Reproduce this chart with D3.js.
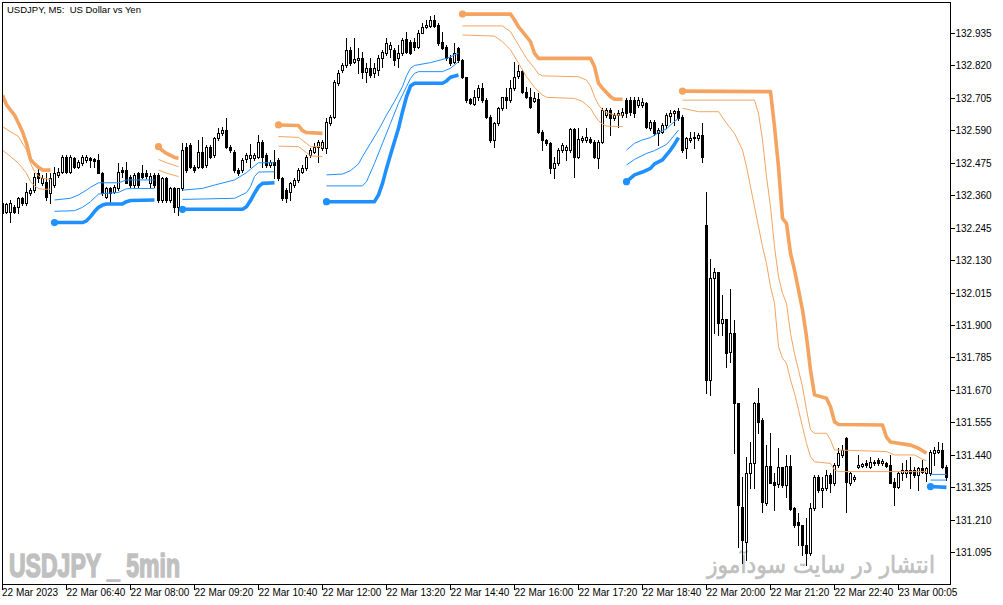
<!DOCTYPE html>
<html>
<head>
<meta charset="utf-8">
<script src="https://cdn.jsdelivr.net/npm/d3@7"></script>
<style>
  html, body { margin: 0; padding: 0; background: #fff; }
  svg { display: block; font-family: "Liberation Sans", Arial, sans-serif; }
</style>
</head>
<body>
<div id="chart"></div>
<script>
// USDJPY M5 candles, bar 0 = 22 Mar 05:20
const opens = [
  132.331,132.302,132.302,132.319,132.319,132.349,132.331,132.367,132.378,132.438,
  132.402,132.408,132.367,132.396,132.432,132.443,132.497,132.443,132.491,132.461,
  132.473,132.485,132.491,132.487,132.485,132.438,132.355,132.384,132.372,132.384,
  132.449,132.449,132.426,132.396,132.438,132.438,132.438,132.402,132.432,132.432,
  132.343,132.420,132.343,132.384,132.319,132.384,132.532,132.538,132.461,132.461,
  132.514,132.467,132.532,132.502,132.562,132.579,132.591,132.532,132.514,132.449,
  132.449,132.487,132.491,132.491,132.497,132.550,132.502,132.467,132.477,132.485,
  132.420,132.378,132.372,132.396,132.414,132.443,132.455,132.502,132.514,132.532,
  132.526,132.526,132.617,132.638,132.757,132.804,132.822,132.875,132.833,132.839,
  132.845,132.798,132.810,132.792,132.804,132.845,132.863,132.877,132.875,132.845,
  132.863,132.913,132.904,132.904,132.887,132.936,132.957,132.960,132.981,132.963,
  132.904,132.887,132.845,132.833,132.881,132.839,132.778,132.700,132.683,132.709,
  132.739,132.697,132.638,132.556,132.615,132.668,132.707,132.697,132.739,132.783,
  132.801,132.727,132.709,132.694,132.700,132.585,132.556,132.544,132.455,132.473,
  132.520,132.520,132.520,132.594,132.497,132.556,132.556,132.558,132.550,132.491,
  132.550,132.644,132.662,132.632,132.644,132.644,132.697,132.697,132.697,132.680,
  132.680,132.686,132.599,132.621,132.579,132.585,132.609,132.642,132.650,132.659,
  132.638,132.526,132.556,132.562,132.562,132.573,132.254,131.705,132.068,132.087,
  131.906,131.920,131.805,131.870,131.622,131.256,131.132,131.374,131.409,131.622,
  131.563,131.270,131.400,131.344,131.336,131.395,131.333,131.400,131.250,131.203,
  131.191,131.120,131.090,131.250,131.362,131.315,131.321,131.368,131.339,131.404,
  131.439,131.498,131.339,131.353,131.398,131.400,131.409,131.398,131.415,131.421,
  131.409,131.412,131.404,131.344,131.327,131.374,131.374,131.386,131.386,131.368,
  131.392,131.374,131.374,131.445,131.451,131.457,131.398
];
const highs = [
  132.337,132.334,132.343,132.325,132.355,132.355,132.402,132.384,132.438,132.455,
  132.432,132.438,132.438,132.461,132.455,132.502,132.502,132.502,132.497,132.485,
  132.502,132.502,132.497,132.491,132.506,132.443,132.390,132.390,132.396,132.473,
  132.461,132.479,132.432,132.438,132.443,132.467,132.449,132.438,132.438,132.438,
  132.426,132.426,132.390,132.390,132.384,132.544,132.544,132.544,132.467,132.556,
  132.568,132.538,132.538,132.568,132.597,132.603,132.632,132.538,132.520,132.455,
  132.491,132.508,132.542,132.508,132.573,132.556,132.508,132.485,132.520,132.491,
  132.426,132.384,132.408,132.420,132.455,132.467,132.502,132.526,132.544,132.556,
  132.556,132.632,132.644,132.768,132.804,132.828,132.916,132.887,132.916,132.881,
  132.869,132.828,132.845,132.828,132.857,132.875,132.916,132.904,132.881,132.892,
  132.916,132.940,132.910,132.916,132.946,132.969,132.981,132.995,132.999,132.969,
  132.940,132.892,132.857,132.898,132.887,132.842,132.780,132.703,132.733,132.751,
  132.757,132.703,132.644,132.621,132.674,132.709,132.739,132.768,132.833,132.822,
  132.804,132.745,132.739,132.727,132.721,132.591,132.558,132.550,132.497,132.526,
  132.544,132.538,132.597,132.597,132.597,132.570,132.597,132.568,132.556,132.556,
  132.668,132.668,132.668,132.650,132.662,132.668,132.703,132.709,132.707,132.709,
  132.703,132.692,132.627,132.627,132.597,132.615,132.650,132.662,132.662,132.668,
  132.644,132.568,132.585,132.585,132.579,132.615,132.373,132.133,132.101,132.089,
  132.006,131.920,132.026,131.918,131.622,131.362,131.433,131.486,131.628,131.675,
  131.569,131.474,131.516,131.374,131.463,131.398,131.439,131.439,131.256,131.232,
  131.191,131.214,131.268,131.368,131.368,131.362,131.386,131.374,131.409,131.463,
  131.474,131.504,131.380,131.368,131.439,131.412,131.421,131.433,131.421,131.427,
  131.424,131.415,131.439,131.356,131.380,131.409,131.421,131.433,131.398,131.398,
  131.421,131.398,131.457,131.469,131.486,131.480,131.404
];
const lows = [
  132.290,132.296,132.266,132.296,132.296,132.325,132.325,132.361,132.372,132.408,
  132.396,132.343,132.331,132.390,132.426,132.438,132.438,132.438,132.455,132.455,
  132.467,132.479,132.461,132.461,132.438,132.361,132.349,132.331,132.367,132.378,
  132.426,132.402,132.390,132.390,132.390,132.420,132.420,132.390,132.390,132.337,
  132.337,132.337,132.337,132.302,132.290,132.378,132.443,132.455,132.443,132.455,
  132.455,132.461,132.491,132.497,132.556,132.573,132.526,132.514,132.443,132.432,
  132.443,132.479,132.461,132.485,132.491,132.461,132.461,132.461,132.420,132.414,
  132.343,132.337,132.343,132.390,132.408,132.438,132.449,132.497,132.508,132.479,
  132.520,132.508,132.609,132.632,132.751,132.798,132.816,132.822,132.828,132.792,
  132.774,132.763,132.780,132.780,132.786,132.816,132.857,132.851,132.822,132.816,
  132.857,132.863,132.861,132.875,132.881,132.934,132.952,132.957,132.957,132.892,
  132.877,132.839,132.822,132.828,132.833,132.774,132.692,132.683,132.680,132.697,
  132.692,132.632,132.550,132.532,132.609,132.662,132.668,132.692,132.733,132.774,
  132.721,132.703,132.668,132.692,132.579,132.520,132.538,132.438,132.420,132.467,
  132.514,132.485,132.514,132.426,132.491,132.550,132.550,132.544,132.491,132.455,
  132.544,132.638,132.573,132.627,132.603,132.638,132.638,132.644,132.638,132.674,
  132.674,132.597,132.591,132.573,132.538,132.579,132.597,132.621,132.609,132.627,
  132.514,132.491,132.550,132.526,132.556,132.479,131.658,131.652,131.870,131.864,
  131.864,131.752,131.770,131.445,131.114,131.055,131.067,131.321,131.321,131.516,
  131.238,131.262,131.339,131.244,131.327,131.327,131.291,131.244,131.185,131.120,
  131.085,131.049,131.085,131.244,131.309,131.256,131.315,131.309,131.333,131.398,
  131.433,131.238,131.333,131.348,131.392,131.395,131.398,131.392,131.404,131.404,
  131.404,131.396,131.339,131.262,131.321,131.350,131.362,131.321,131.362,131.315,
  131.374,131.345,131.368,131.404,131.445,131.392,131.350
];
const closes = [
  132.296,132.328,132.331,132.299,132.349,132.331,132.372,132.378,132.426,132.420,
  132.420,132.355,132.420,132.438,132.443,132.497,132.443,132.497,132.461,132.477,
  132.497,132.497,132.485,132.482,132.438,132.367,132.384,132.367,132.390,132.443,
  132.443,132.402,132.396,132.432,132.396,132.426,132.428,132.428,132.396,132.343,
  132.420,132.343,132.384,132.319,132.384,132.520,132.449,132.461,132.449,132.514,
  132.461,132.532,132.497,132.562,132.579,132.591,132.532,132.520,132.449,132.438,
  132.485,132.502,132.502,132.502,132.550,132.497,132.467,132.477,132.467,132.420,
  132.349,132.349,132.402,132.414,132.449,132.455,132.497,132.520,132.532,132.550,
  132.550,132.621,132.638,132.762,132.792,132.822,132.875,132.828,132.842,132.845,
  132.798,132.810,132.786,132.810,132.845,132.869,132.898,132.892,132.839,132.863,
  132.910,132.869,132.865,132.887,132.936,132.957,132.963,132.981,132.960,132.901,
  132.881,132.845,132.828,132.863,132.839,132.778,132.697,132.688,132.709,132.739,
  132.697,132.638,132.556,132.615,132.668,132.707,132.697,132.739,132.780,132.801,
  132.727,132.709,132.674,132.706,132.585,132.556,132.544,132.455,132.473,132.520,
  132.538,132.532,132.594,132.497,132.558,132.562,132.568,132.550,132.497,132.550,
  132.662,132.662,132.632,132.644,132.650,132.656,132.650,132.656,132.650,132.697,
  132.692,132.603,132.621,132.579,132.591,132.609,132.644,132.650,132.659,132.635,
  132.520,132.562,132.562,132.568,132.573,132.497,131.705,132.065,132.087,131.906,
  131.920,131.802,131.870,131.622,131.262,131.138,131.374,131.409,131.622,131.557,
  131.274,131.400,131.339,131.333,131.395,131.333,131.400,131.246,131.191,131.191,
  131.120,131.090,131.250,131.362,131.315,131.321,131.368,131.339,131.404,131.445,
  131.457,131.344,131.374,131.362,131.404,131.406,131.404,131.415,131.409,131.409,
  131.418,131.400,131.341,131.327,131.374,131.386,131.386,131.374,131.368,131.392,
  131.380,131.392,131.451,131.457,131.457,131.398,131.362
];

// trailing stop above price (thick) and its two thin companion lines, as [bar, price] runs
const upperStop = [
  [[0,132.715],[1,132.680],[2,132.662],[3,132.644],[4,132.615],[5,132.585],[6,132.544],[7,132.487],[8,132.471],[9,132.459],[10,132.449],[12,132.449]],
  [[39,132.532],[40,132.518],[41,132.508],[42,132.501],[43,132.494],[44,132.491]],
  [[69,132.609],[74,132.607],[75,132.589],[76,132.582],[80,132.579]],
  [[115,133.002],[127,133.002],[128,132.981],[129,132.957],[130,132.940],[131,132.922],[132,132.904],[133,132.863],[134,132.845],[147,132.845],[148,132.816],[149,132.757],[150,132.739],[151,132.724],[152,132.709],[153,132.700],[155,132.700]],
  [[170,132.729],[192,132.727],[193,132.603],[194,132.461],[195,132.278],[196,132.260],[197,132.154],[198,132.095],[199,132.024],[200,131.953],[201,131.859],[202,131.740],[203,131.652],[206,131.640],[207,131.610],[208,131.557],[209,131.547],[220,131.545],[221,131.502],[222,131.485],[227,131.474],[229,131.463],[231,131.445]]
];
const upperMid = [
  [[0,132.603],[2,132.585],[4,132.568],[6,132.520],[7,132.473],[8,132.443],[9,132.428],[10,132.420],[12,132.416]],
  [[39,132.487],[41,132.475],[44,132.461]],
  [[69,132.568],[74,132.565],[76,132.544],[77,132.532],[80,132.532]],
  [[115,132.960],[125,132.960],[127,132.940],[129,132.892],[131,132.845],[133,132.810],[134,132.790],[135,132.783],[144,132.780],[146,132.768],[147,132.747],[148,132.709],[149,132.680],[150,132.662],[151,132.653],[153,132.644],[155,132.644]],
  [[170,132.697],[188,132.697],[189,132.650],[190,132.556],[191,132.426],[192,132.319],[193,132.178],[194,132.071],[195,132.012],[196,131.977],[197,131.870],[198,131.799],[199,131.740],[200,131.681],[201,131.599],[202,131.528],[203,131.516],[206,131.516],[207,131.492],[208,131.457],[221,131.451],[223,131.439],[228,131.439],[230,131.424],[231,131.419]]
];
const upperNear = [
  [[0,132.520],[2,132.497],[4,132.473],[6,132.438],[7,132.408],[8,132.393],[9,132.384],[10,132.381],[12,132.381]],
  [[39,132.449],[41,132.438],[44,132.426]],
  [[69,132.534],[74,132.532],[76,132.511],[77,132.499],[80,132.497]],
  [[115,132.928],[123,132.924],[125,132.904],[127,132.875],[129,132.828],[131,132.780],[133,132.742],[135,132.715],[136,132.707],[143,132.703],[145,132.692],[147,132.668],[148,132.644],[149,132.624],[150,132.612],[151,132.605],[155,132.603]],
  [[170,132.668],[172,132.662],[174,132.656],[179,132.656],[181,132.615],[183,132.579],[185,132.520],[186,132.461],[187,132.390],[188,132.319],[189,132.248],[190,132.178],[191,132.118],[192,132.036],[193,131.977],[194,131.823],[195,131.782],[196,131.764],[197,131.705],[198,131.658],[199,131.599],[200,131.539],[201,131.480],[202,131.433],[203,131.415],[207,131.409],[208,131.386],[209,131.380],[231,131.380]]
];

// trailing stop below price (thick) and its two thin companion lines
const lowerStop = [
  [[13,132.263],[20,132.263],[21,132.269],[22,132.284],[23,132.302],[24,132.317],[25,132.325],[26,132.329],[30,132.329],[31,132.337],[32,132.341],[38,132.343]],
  [[45,132.310],[60,132.310],[61,132.319],[62,132.341],[63,132.367],[64,132.390],[65,132.402],[68,132.404]],
  [[81,132.337],[93,132.337],[94,132.361],[95,132.402],[96,132.455],[97,132.503],[98,132.550],[99,132.597],[100,132.656],[101,132.709],[102,132.747],[103,132.757],[110,132.757],[111,132.765],[112,132.778],[114,132.786]],
  [[156,132.408],[158,132.432],[160,132.442],[162,132.455],[163,132.471],[165,132.485],[166,132.503],[167,132.520],[168,132.541],[169,132.564]],
  [[232,131.327],[236,131.324]]
];
const lowerMid = [
  [[13,132.303],[18,132.305],[20,132.317],[22,132.337],[24,132.364],[29,132.370],[31,132.383],[38,132.384]],
  [[45,132.345],[58,132.349],[61,132.369],[62,132.390],[63,132.426],[64,132.442],[68,132.443]],
  [[81,132.393],[90,132.393],[91,132.408],[93,132.473],[95,132.544],[97,132.615],[99,132.686],[101,132.745],[102,132.774],[103,132.792],[104,132.798],[110,132.798],[112,132.810],[114,132.833]],
  [[156,132.467],[158,132.487],[161,132.508],[163,132.518],[166,132.540],[167,132.556],[169,132.591]],
  [[232,131.350],[236,131.350]]
];
const lowerNear = [
  [[13,132.343],[17,132.349],[19,132.361],[21,132.378],[22,132.388],[24,132.404],[29,132.404],[31,132.414],[38,132.414]],
  [[45,132.378],[50,132.384],[53,132.396],[58,132.414],[61,132.440],[63,132.464],[64,132.475],[68,132.475]],
  [[81,132.432],[85,132.435],[87,132.447],[89,132.471],[90,132.497],[92,132.544],[94,132.591],[96,132.644],[98,132.692],[100,132.745],[101,132.783],[102,132.810],[103,132.820],[107,132.830],[111,132.845],[114,132.863]],
  [[156,132.520],[158,132.544],[160,132.556],[162,132.564],[164,132.582],[166,132.595],[167,132.609],[169,132.633]],
  [[232,131.370],[236,131.370]]
];

const priceTicks = ['132.935','132.820','132.705','132.590','132.475','132.360','132.245','132.130',
  '132.015','131.900','131.785','131.670','131.555','131.440','131.325','131.210','131.095'];
const timeTickBars = [0, 16, 32, 48, 64, 80, 96, 112, 128, 144, 160, 176, 192, 208, 224];
const timeTickLabels = ['22 Mar 2023','22 Mar 06:40','22 Mar 08:00','22 Mar 09:20','22 Mar 10:40',
  '22 Mar 12:00','22 Mar 13:20','22 Mar 14:40','22 Mar 16:00','22 Mar 17:20','22 Mar 18:40',
  '22 Mar 20:00','22 Mar 21:20','22 Mar 22:40','23 Mar 00:05'];

const width = 1003;
const height = 605;
const plot = { left: 2.5, top: 2.5, right: 950.5, bottom: 584.5 };
const orange = '#F4A460';
const blue = '#1E90FF';

const svg = d3.select('#chart')
  .append('svg')
  .attr('width', width)
  .attr('height', height);

svg.append('defs')
  .append('clipPath')
  .attr('id', 'plot-clip')
  .append('rect')
  .attr('x', plot.left)
  .attr('y', plot.top)
  .attr('width', plot.right - plot.left)
  .attr('height', plot.bottom - plot.top);

const xScale = d3.scaleLinear().domain([0, 236]).range([2.5, 946.5]);
const yScale = d3.scaleLinear().domain([131.095, 132.935]).range([552, 33]);

// watermarks sit under the candles
svg.append('text')
  .attr('x', 9)
  .attr('y', 577)
  .attr('textLength', 171)
  .attr('lengthAdjust', 'spacingAndGlyphs')
  .attr('fill', '#c0c0c0')
  .attr('stroke', '#c0c0c0')
  .attr('stroke-width', 1.6)
  .attr('stroke-linejoin', 'round')
  .attr('font-family', '"Liberation Sans", Arial, sans-serif')
  .attr('font-weight', 'bold')
  .attr('font-size', 33)
  .text('USDJPY _ 5min');

svg.append('text')
  .attr('x', 935)
  .attr('y', 573)
  .attr('text-anchor', 'end')
  .attr('fill', '#c0c0c0')
  .attr('stroke', '#c0c0c0')
  .attr('stroke-width', 0.6)
  .attr('font-family', '"DejaVu Sans", sans-serif')
  .attr('font-size', 24)
  .attr('textLength', 228)
  .attr('lengthAdjust', 'spacingAndGlyphs')
  .text('انتشار در سایت سودآموز');

svg.append('text')
  .attr('x', 7)
  .attr('y', 13)
  .attr('font-size', 9.5)
  .attr('fill', '#000')
  .style('white-space', 'pre')
  .text('USDJPY, M5:  US Dollar vs Yen');

// candles
const candles = d3.range(opens.length).map((i) => ({
  i,
  o: opens[i],
  h: highs[i],
  l: lows[i],
  c: closes[i],
}));

const snap = (v) => Math.round(v) + 0.5;

const candleLayer = svg
  .append('g')
  .attr('clip-path', 'url(#plot-clip)')
  .attr('shape-rendering', 'crispEdges');

candleLayer
  .selectAll('line')
  .data(candles)
  .join('line')
  .attr('x1', (d) => xScale(d.i))
  .attr('x2', (d) => xScale(d.i))
  .attr('y1', (d) => Math.round(yScale(d.h)))
  .attr('y2', (d) => Math.round(yScale(d.l)) + 1)
  .attr('stroke', '#000');

candleLayer
  .selectAll('rect')
  .data(candles)
  .join('rect')
  .attr('x', (d) => xScale(d.i) - 1)
  .attr('width', 2)
  .attr('y', (d) => snap(yScale(Math.max(d.o, d.c))))
  .attr('height', (d) =>
    Math.max(1, snap(yScale(Math.min(d.o, d.c))) - snap(yScale(Math.max(d.o, d.c))))
  )
  .attr('fill', (d) => (d.c >= d.o ? '#fff' : '#000'))
  .attr('stroke', '#000');

// stop lines
const line = d3
  .line()
  .x((d) => xScale(d[0]))
  .y((d) => yScale(d[1]));

const lineLayer = svg.append('g').attr('clip-path', 'url(#plot-clip)');

function drawRuns(runs, color, widthPx) {
  lineLayer
    .append('g')
    .selectAll('path')
    .data(runs)
    .join('path')
    .attr('d', line)
    .attr('fill', 'none')
    .attr('stroke', color)
    .attr('stroke-width', widthPx)
    .attr('stroke-linejoin', 'round');
}

drawRuns(upperMid, orange, 1);
drawRuns(upperNear, orange, 1);
drawRuns(lowerMid, blue, 1);
drawRuns(lowerNear, blue, 1);
drawRuns(upperStop, orange, 3.6);
drawRuns(lowerStop, blue, 3.6);

// a dot where each new stop run begins
const starts = [
  ...upperStop.filter((r) => r[0][0] > 0).map((r) => ({ p: r[0], color: orange })),
  ...lowerStop.filter((r) => r[0][0] > 0).map((r) => ({ p: r[0], color: blue })),
];
lineLayer
  .append('g')
  .selectAll('circle')
  .data(starts)
  .join('circle')
  .attr('cx', (d) => xScale(d.p[0]))
  .attr('cy', (d) => yScale(d.p[1]))
  .attr('r', 3.6)
  .attr('fill', (d) => d.color);

// frame
svg
  .append('rect')
  .attr('x', plot.left)
  .attr('y', plot.top)
  .attr('width', plot.right - plot.left)
  .attr('height', plot.bottom - plot.top)
  .attr('fill', 'none')
  .attr('stroke', '#000')
  .attr('shape-rendering', 'crispEdges');

// price axis
const priceAxis = svg.append('g').attr('font-size', 10);
priceTicks.forEach((t) => {
  const y = Math.round(yScale(+t)) + 0.5;
  priceAxis
    .append('line')
    .attr('x1', plot.right)
    .attr('x2', plot.right + 4)
    .attr('y1', y)
    .attr('y2', y)
    .attr('stroke', '#000')
    .attr('shape-rendering', 'crispEdges');
  priceAxis
    .append('text')
    .attr('x', plot.right + 5)
    .attr('y', y)
    .attr('dy', '0.35em')
    .text(t);
});

// time axis
const timeAxis = svg.append('g').attr('font-size', 10);
timeTickBars.forEach((b, k) => {
  const x = xScale(b);
  timeAxis
    .append('line')
    .attr('x1', x)
    .attr('x2', x)
    .attr('y1', plot.bottom)
    .attr('y2', plot.bottom + 5)
    .attr('stroke', '#000')
    .attr('shape-rendering', 'crispEdges');
  timeAxis
    .append('text')
    .attr('x', k === 0 ? x - 0.5 : x)
    .attr('y', 596)
    .text(timeTickLabels[k]);
});
</script>
</body>
</html>
